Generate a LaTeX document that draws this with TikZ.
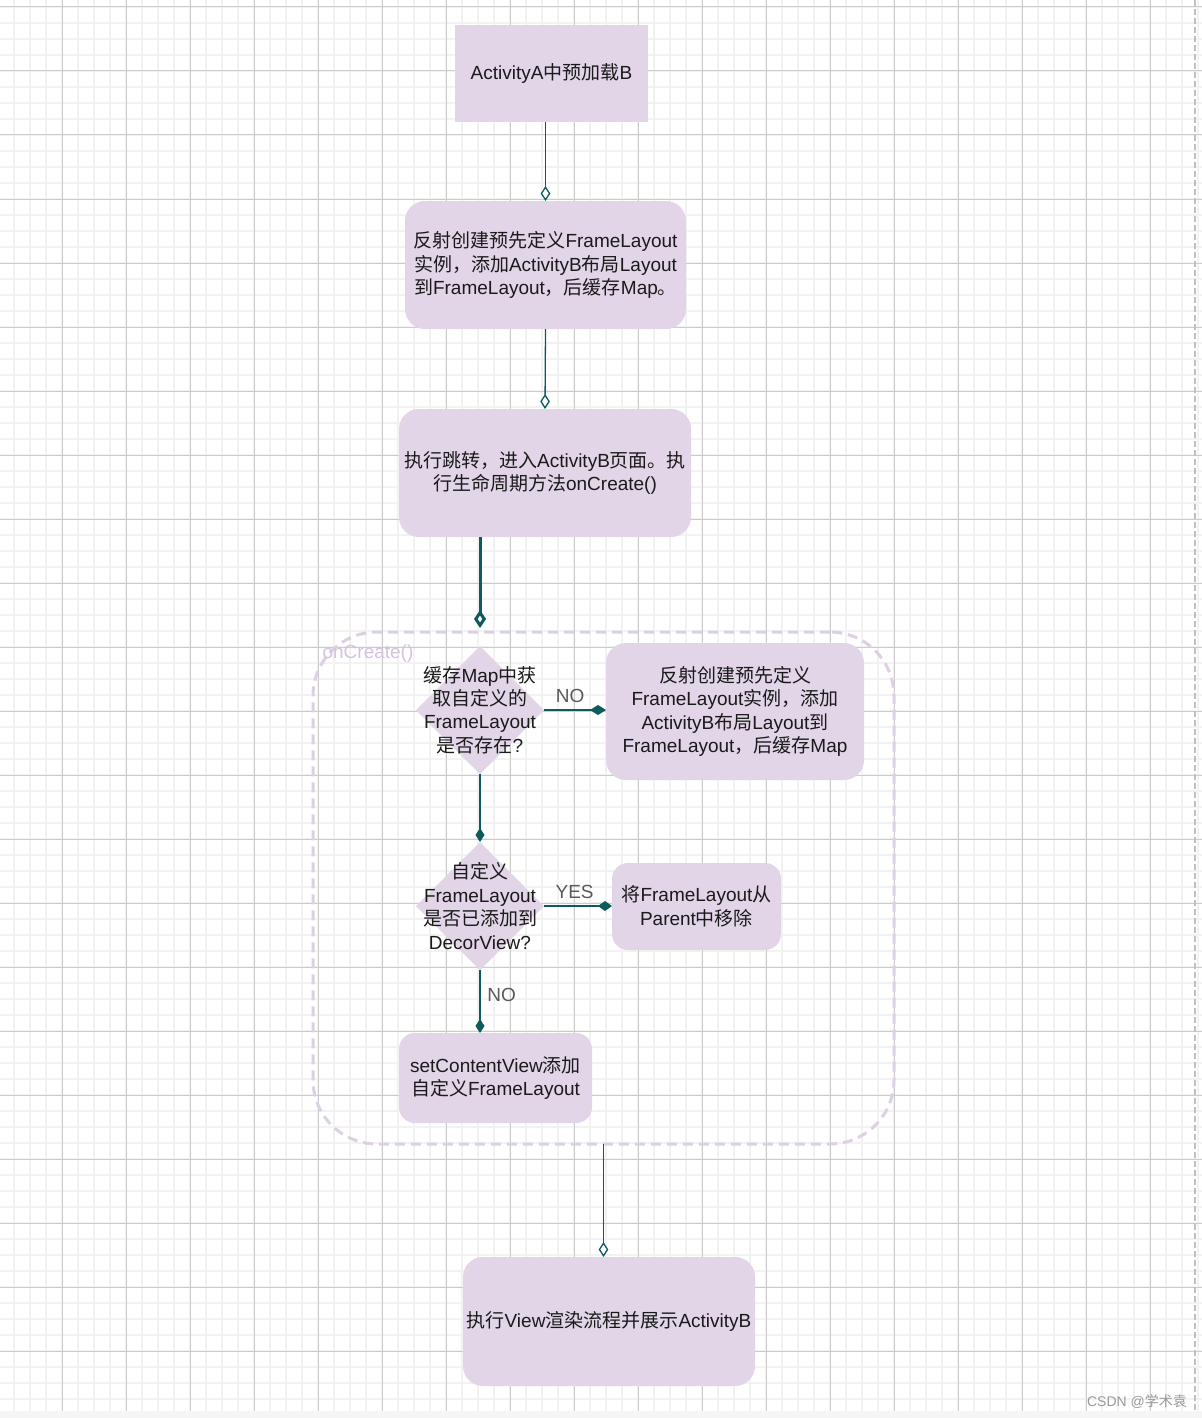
\documentclass[tikz,border=0pt]{standalone}
\usepackage{fontspec}
\setmainfont{Liberation Sans}
\newfontfamily\cjk{Noto Sans CJK SC}
\newcommand{\zh}[1]{{\cjk #1}}
\usetikzlibrary{arrows.meta,shapes.geometric}
\definecolor{boxfill}{HTML}{E1D5E7}
\definecolor{groupcol}{HTML}{DDD0E4}
\definecolor{grouptext}{HTML}{D6C2E0}
\definecolor{linecol}{HTML}{0E5B5D}
\definecolor{textcol}{HTML}{1A1A1A}
\definecolor{labelcol}{HTML}{5A5A5A}
\definecolor{gridminor}{HTML}{F2F2F2}
\definecolor{gridmajor}{HTML}{CCCCCC}

\begin{document}
\begin{tikzpicture}[x=0.5pt,y=-0.5pt,font=\fontsize{9.5}{11.7}\selectfont]

    \useasboundingbox (0,0) rectangle (1202,1418);

    % background grid
    \fill[white] (0,0) rectangle (1202,1411);
    \fill[black!4] (0,1411) rectangle (1202,1418);
    \foreach \x in {-2,14,...,1202} \draw[gridminor,line width=1pt] (\x,0) -- (\x,1411);
    \foreach \y in {7,23,...,1411} \draw[gridminor,line width=1pt] (0,\y) -- (1202,\y);
    \foreach \x in {62,126,...,1150} \draw[gridmajor,line width=0.5pt] (\x,0) -- (\x,1411);
    \foreach \y in {7,71,...,1351} \draw[gridmajor,line width=0.5pt] (0,\y) -- (1202,\y);
    \draw[black!25,line width=1pt,dash pattern=on 3pt off 1.5pt] (1195,0) -- (1195,1411);

    \begin{scope}[every node/.style={fill=boxfill,text=textcol,align=center,inner sep=0pt,outer sep=0pt}]
        \node[fill=none,draw=groupcol,line width=1.5pt,dash pattern=on 5pt off 3pt,rounded corners=32pt,
              minimum width=290.5pt,minimum height=256pt] (10) at (603.5,888) {};
        \node[fill=none,text=grouptext] (11) at (368,654) {onCreate()};

        \node[minimum width=96.5pt,minimum height=48.5pt] (1) at (551.5,73.5) {ActivityA\zh{中预加载}B};
        \node[rounded corners=10pt,minimum width=140.5pt,minimum height=64pt] (2) at (545.5,265)
            {\zh{反射创建预先定义}FrameLayout\\\zh{实例，添加}ActivityB\zh{布局}Layout\\\zh{到}FrameLayout\zh{，后缓存}Map\zh{。}};
        \node[rounded corners=10pt,minimum width=146pt,minimum height=64pt] (3) at (545,473)
            {\zh{执行跳转，进入}ActivityB\zh{页面。执}\\\zh{行生命周期方法}onCreate()};
        \node[diamond,minimum width=64pt,minimum height=64pt,
              label={[fill=none,align=center]center:{\zh{缓存}Map\zh{中获}\\\zh{取自定义的}\\FrameLayout\\\zh{是否存在}?}}] (4) at (480,710) {};
        \node[rounded corners=10pt,minimum width=129pt,minimum height=68.5pt] (5) at (735,711.5)
            {\zh{反射创建预先定义}\\FrameLayout\zh{实例，添加}\\ActivityB\zh{布局}Layout\zh{到}\\FrameLayout\zh{，后缓存}Map};
        \node[diamond,minimum width=64pt,minimum height=64pt,
              label={[fill=none,align=center]center:{\zh{自定义}\\FrameLayout\\\zh{是否已添加到}\\DecorView?}}] (6) at (480,906) {};
        \node[rounded corners=8pt,minimum width=84.5pt,minimum height=43.5pt] (7) at (696.5,906.5)
            {\zh{将}FrameLayout\zh{从}\\Parent\zh{中移除}};
        \node[rounded corners=8pt,minimum width=96.5pt,minimum height=45pt] (8) at (495.5,1078)
            {setContentView\zh{添加}\\\zh{自定义}FrameLayout};
        \node[rounded corners=10pt,minimum width=146pt,minimum height=64.5pt] (9) at (609,1321.5)
            {\zh{执行}View\zh{渲染流程并展示}ActivityB};
    \end{scope}

    \begin{scope}[every node/.style={text=labelcol}, every edge/.style={draw=linecol}]
        \path [line width=0.65pt,-{Diamond[fill=white,length=7.5pt,width=4.8pt]}] (1.south -| 2.north) edge (2.north);
        \path [line width=0.65pt,-{Diamond[fill=white,length=7.5pt,width=4.8pt]}] (2.south) edge (3.north);
        \path [line width=1.5pt,-{Diamond[fill=white,length=9pt,width=6pt]}] (3.south -| 4) edge ([yshift=2pt]10.north -| 4);
        \path [line width=1.1pt,-{Diamond[length=8pt,width=5pt]}] (4.east) edge node[above,pos=0.42] {NO} (4.east -| 5.west);
        \path [line width=0.8pt,-{Diamond[length=7pt,width=4.5pt]}] (4.south) edge (6.north);
        \path [line width=1.1pt,-{Diamond[length=7pt,width=5pt]}] (6.east) edge node[above,pos=0.45] {YES} (6.east -| 7.west);
        \path [line width=0.8pt,-{Diamond[length=7pt,width=4.5pt]}] (6.south) edge node[right,pos=0.4] {NO} (6.south |- 8.north);
        \path [line width=0.65pt,-{Diamond[fill=white,length=7.5pt,width=4.8pt]}] (10.south) edge (10.south |- 9.north);
    \end{scope}

    \node[text=black!40,font=\fontsize{7}{8}\selectfont] (12) at (1137,1402) {CSDN @\zh{学术袁}};

\end{tikzpicture}
\end{document}
